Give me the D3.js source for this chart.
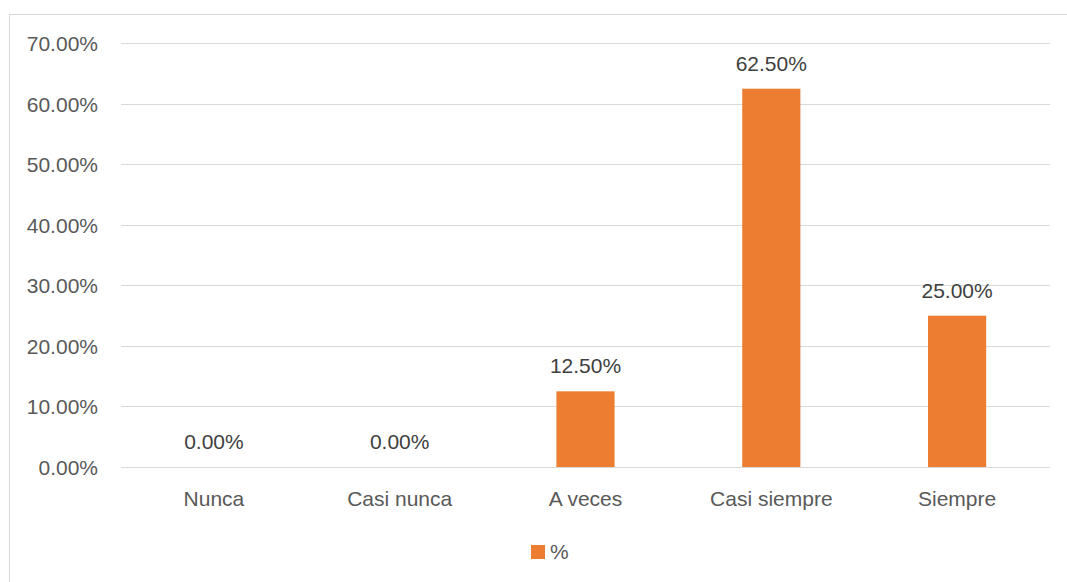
<!DOCTYPE html>
<html><head><meta charset="utf-8">
<script src="https://cdn.jsdelivr.net/npm/d3@7"></script>
<style>
html,body{margin:0;padding:0;background:#fff;}
svg{display:block;}
text{font-family:"Liberation Sans",Arial,sans-serif;}
</style></head>
<body>
<script>
const categories = ["Nunca","Casi nunca","A veces","Casi siempre","Siempre"];
const values = [0, 0, 0.125, 0.625, 0.25];
const yTicks = [0,0.1,0.2,0.3,0.4,0.5,0.6,0.7];
const seriesName = "%";

(function(){
const W = 1067, H = 582;
const FS = 21;
const svg = d3.select("body").append("svg").attr("width", W).attr("height", H);

// chart border
svg.append("rect").attr("x", 9.5).attr("y", 14.5).attr("width", W + 10).attr("height", H + 10)
  .attr("fill", "#fff").attr("stroke", "#d9d9d9").attr("stroke-width", 1);

const pLeft = 121, pRight = 1050, pTop = 43.3, pBottom = 467;
const x = d3.scaleBand().domain(categories).range([pLeft, pRight]).paddingInner(0.687).paddingOuter(0.3435);
const y = d3.scaleLinear().domain([0, 0.7]).range([pBottom, pTop]);
const fmt = d3.format(".2%");

// gridlines
svg.append("g").selectAll("line").data(yTicks).join("line")
  .attr("x1", pLeft).attr("x2", pRight)
  .attr("y1", d => Math.round(y(d)) + 0.5).attr("y2", d => Math.round(y(d)) + 0.5)
  .attr("stroke", "#d9d9d9").attr("stroke-width", 1);

// y axis labels
const yAxis = d3.axisLeft(y).tickValues(yTicks).tickFormat(fmt).tickSize(0).tickPadding(0);
const gy = svg.append("g").attr("transform", `translate(98,0)`).call(yAxis);
gy.select(".domain").remove();
gy.selectAll("text").attr("font-size", FS).attr("fill", "#595959")
  .attr("font-family", "Liberation Sans, Arial, sans-serif").attr("dy", "0.35em");

// bars
svg.append("g").selectAll("rect").data(values).join("rect")
  .attr("x", (d, i) => x(categories[i]))
  .attr("width", x.bandwidth())
  .attr("y", d => y(d))
  .attr("height", d => y(0) - y(d))
  .attr("fill", "#ed7d31");

// data labels
svg.append("g").selectAll("text").data(values).join("text")
  .attr("x", (d, i) => x(categories[i]) + x.bandwidth() / 2)
  .attr("y", d => y(d) - 18)
  .attr("text-anchor", "middle").attr("font-size", FS).attr("fill", "#404040")
  .text(d => fmt(d));

// x axis labels
const xAxis = d3.axisBottom(x).tickSize(0).tickPadding(0);
const gx = svg.append("g").attr("transform", `translate(0,${pBottom})`).call(xAxis);
gx.select(".domain").remove();
gx.selectAll("text").attr("font-size", FS).attr("fill", "#595959")
  .attr("font-family", "Liberation Sans, Arial, sans-serif").attr("dy", null).attr("y", 39);

// legend
const lg = svg.append("g");
lg.append("rect").attr("x", 531).attr("y", 545).attr("width", 14).attr("height", 14).attr("fill", "#ed7d31");
lg.append("text").attr("x", 550).attr("y", 559).attr("font-size", FS).attr("fill", "#595959").text(seriesName);
})();
</script>
</body></html>
